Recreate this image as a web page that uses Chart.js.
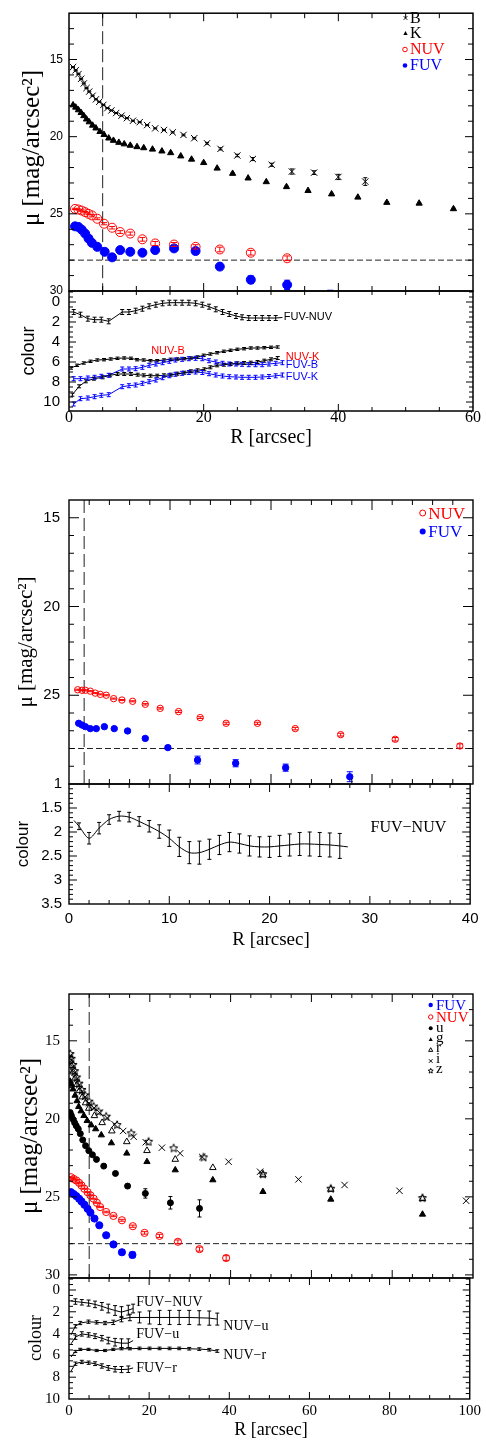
<!DOCTYPE html>
<html>
<head>
<meta charset="utf-8">
<title>UV surface brightness profiles</title>
<script src="https://cdn.jsdelivr.net/npm/chart.js@4.4.1/dist/chart.umd.min.js"></script>
<style>
  body { margin: 0; background: #fff; }
  #fig { position: relative; width: 486px; height: 1442px; }
  #fig canvas { position: absolute; left: 0; top: 0; display: block; }
</style>
</head>
<body>
<div id="fig">
  <canvas id="p1m" width="486" height="1442"></canvas>
  <canvas id="p1c" width="486" height="1442"></canvas>
  <canvas id="p2m" width="486" height="1442"></canvas>
  <canvas id="p2c" width="486" height="1442"></canvas>
  <canvas id="p3m" width="486" height="1442"></canvas>
  <canvas id="p3c" width="486" height="1442"></canvas>
</div>
<script>
//-------------
//- DATA -
//-------------

// panel 1 : B, K, NUV, FUV profiles
var rB  = [0.6,1.0,1.4,1.8,2.2,2.6,3.0,3.5,4.0,4.5,5.1,5.7,6.3,7.0,7.8,8.6,9.5,10.5,11.6,12.8,14.1,15.4,17.0,18.6,20.5,22.5,25.0,27.3,30.1,33.1,36.4,40.0,44.0];
var muB = [15.49,15.7,15.95,16.25,16.55,16.85,17.08,17.35,17.58,17.74,17.94,18.15,18.3,18.47,18.64,18.8,18.97,19.06,19.25,19.46,19.57,19.72,19.89,20.1,20.43,20.79,21.22,21.45,21.82,22.26,22.33,22.61,22.91];
var eB  = [0.03,0.03,0.03,0.03,0.03,0.03,0.03,0.03,0.03,0.03,0.03,0.03,0.03,0.03,0.03,0.03,0.03,0.03,0.03,0.03,0.04,0.04,0.05,0.05,0.06,0.07,0.08,0.1,0.1,0.17,0.12,0.17,0.25];

var rK  = [0.6,1.0,1.4,1.8,2.2,2.6,3.0,3.5,4.0,4.6,5.2,5.9,6.6,7.4,8.2,9.1,10.1,11.1,12.4,13.8,15.1,16.6,18.2,20.0,22.0,24.3,26.6,29.3,32.3,35.5,39.0,42.9,47.2,52.0,57.1];
var muK = [17.95,18.1,18.27,18.45,18.65,18.87,19.05,19.27,19.45,19.68,19.87,20.1,20.25,20.38,20.48,20.57,20.66,20.73,20.82,20.94,21.05,21.26,21.47,21.69,22.05,22.39,22.69,22.93,23.25,23.5,23.72,23.93,24.27,24.32,24.68];
var eK  = [0.04,0.04,0.04,0.04,0.04,0.04,0.04,0.04,0.04,0.04,0.04,0.04,0.04,0.04,0.04,0.04,0.04,0.04,0.04,0.04,0.04,0.04,0.04,0.04,0.04,0.04,0.04,0.04,0.05,0.05,0.05,0.05,0.05,0.05,0.05];

var rN1  = [0.9,1.4,1.9,2.4,2.9,3.4,4.2,5.2,6.4,7.6,9.1,10.9,12.8,15.6,18.8,22.4,27.0,32.4];
var muN1 = [24.68,24.72,24.79,24.89,25.0,25.1,25.32,25.64,25.9,26.18,26.28,26.65,26.92,26.99,27.14,27.31,27.52,27.88];
var eN1  = [0.04,0.04,0.04,0.04,0.05,0.05,0.06,0.07,0.08,0.09,0.1,0.12,0.13,0.13,0.14,0.15,0.15,0.15];

var rF1  = [0.9,1.4,1.9,2.4,2.9,3.4,4.2,5.3,6.4,7.6,9.1,10.9,12.8,15.6,18.8,22.4,27.0,32.4,38.8];
var muF1 = [25.81,25.85,26.03,26.28,26.6,26.88,27.14,27.46,27.82,27.35,27.46,27.52,27.35,27.24,27.41,28.42,29.27,29.6,30.35];
var eF1  = [0.05,0.05,0.05,0.06,0.07,0.08,0.1,0.12,0.15,0.12,0.13,0.13,0.12,0.12,0.14,0.18,0.25,0.3,0.4];

// panel 1 : colours
var rFUV1  = [0.7,1.7,2.8,3.8,4.8,5.9,7.9,8.9,9.9,10.9,11.9,12.9,13.9,14.9,15.8,16.8,17.8,18.8,19.8,20.8,21.8,22.8,23.8,24.8,25.7,26.7,27.7,28.7,29.7,30.7,31.7];
var fuvNuv1 = [1.0,1.27,1.67,1.77,1.77,1.93,1.0,1.0,0.87,0.67,0.43,0.27,0.13,0.07,0.07,0.07,0.07,0.13,0.27,0.47,0.73,1.0,1.2,1.4,1.53,1.6,1.6,1.6,1.6,1.6,1.55];
var fuvB1   = [7.67,7.67,7.6,7.53,7.43,7.33,6.7,6.7,6.67,6.53,6.33,6.2,6.07,5.93,5.8,5.73,5.67,5.63,5.67,5.87,6.0,6.13,6.2,6.2,6.23,6.27,6.27,6.27,6.2,6.13,6.07];
var fuvK1   = [10.2,9.67,9.6,9.47,9.33,9.27,8.47,8.37,8.3,8.13,7.97,7.8,7.57,7.37,7.23,7.13,7.05,7.0,7.05,7.17,7.3,7.4,7.47,7.5,7.53,7.53,7.53,7.5,7.45,7.38,7.3];
var rNB1  = [0.3,1.2,2.2,3.2,4.2,5.2,6.2,7.2,8.2,9.2,10.1,11.1,12.1,13.1,14.1,15.1,16.1,17.1,18.1,19.1,20.0,21.0,22.0,23.0,24.0,25.0,26.0,27.0,28.0,29.0,30.0,31.0];
var nuvB1 = [6.6,6.33,6.1,5.93,5.8,5.77,5.7,5.63,5.6,5.63,5.77,5.8,5.87,5.87,5.8,5.73,5.7,5.67,5.6,5.5,5.33,5.2,5.07,4.93,4.83,4.73,4.67,4.6,4.6,4.57,4.53,4.5];
var rNK1  = [0.5,1.5,2.5,3.7,5.0,6.1,7.2,8.2,9.2,10.2,11.1,12.1,13.1,14.1,15.1,16.1,17.1,18.1,19.1,20.1,21.0,22.0,23.0,24.0,25.0,26.0,27.0,28.0,29.0,30.0,31.0];
var nuvK1 = [9.27,8.43,7.93,7.67,7.53,7.33,7.2,7.2,7.2,7.27,7.33,7.37,7.37,7.33,7.27,7.17,7.07,6.93,6.83,6.73,6.53,6.33,6.27,6.2,6.13,6.1,6.07,6.0,5.87,5.73,5.6];

// panel 2 : NUV, FUV
var rN2  = [0.86,1.29,1.62,2.11,2.6,3.1,3.69,4.42,5.24,6.3,7.55,9.03,10.85,12.99,15.56,18.66,22.4,26.9,32.3,38.7];
var muN2 = [24.69,24.72,24.72,24.77,24.88,24.95,25.0,25.19,25.27,25.34,25.51,25.74,25.92,26.26,26.58,26.58,26.88,27.22,27.48,27.86];
var eN2  = [0.03,0.03,0.03,0.03,0.03,0.03,0.03,0.03,0.03,0.03,0.04,0.04,0.05,0.05,0.06,0.06,0.07,0.08,0.1,0.12];
var rF2  = [0.96,1.29,1.62,2.11,2.7,3.5,4.48,5.8,7.55,9.79,12.73,16.5,21.45,27.8];
var muF2 = [26.58,26.68,26.77,26.88,26.88,26.77,26.88,27.01,27.43,27.95,28.65,28.83,29.08,29.59];
var eF2  = [0.03,0.03,0.03,0.04,0.05,0.05,0.05,0.06,0.07,0.1,0.22,0.2,0.2,0.28];
var rC2  = [0.5,1,2,3,4,5,6,7,8,9,10,11,12,13,14,15,16,17,18,19,20,21,22,23,24,25,26,27,27.8];
var fuvNuv2 = [1.76,1.88,2.13,1.92,1.74,1.67,1.69,1.78,1.88,1.99,2.13,2.31,2.43,2.43,2.36,2.27,2.21,2.24,2.29,2.31,2.31,2.29,2.27,2.25,2.25,2.26,2.27,2.29,2.31];
var eC2  = [0,0.07,0.12,0.12,0.1,0.1,0.1,0.1,0.12,0.14,0.17,0.2,0.23,0.24,0.21,0.2,0.2,0.2,0.21,0.21,0.22,0.22,0.23,0.24,0.25,0.25,0.25,0.26,0];

// panel 3 : FUV, NUV, u g r i z
var rF3  = [0.5,1.15,1.8,2.5,3.1,3.8,4.6,5.3,6.3,7.5,9.2,11.0,13.1,15.7];
var muF3 = [24.7,24.82,24.95,25.12,25.29,25.5,25.76,26.01,26.39,26.82,27.46,28.05,28.55,28.72];
var eF3  = [0.03,0.03,0.03,0.03,0.04,0.04,0.05,0.05,0.06,0.07,0.1,0.12,0.15,0.18];
var rN3  = [0.5,1.15,1.8,2.5,3.1,3.8,4.6,5.3,6.1,6.9,7.7,9.2,11.0,13.1,15.8,18.7,22.4,26.96,32.3,38.9];
var muN3 = [23.74,23.85,23.95,24.1,24.27,24.48,24.7,24.9,25.12,25.38,25.65,25.97,26.22,26.5,26.88,27.31,27.5,27.88,28.35,28.92];
var eN3  = [0.03,0.03,0.03,0.03,0.03,0.03,0.03,0.03,0.03,0.03,0.04,0.05,0.05,0.06,0.07,0.08,0.1,0.12,0.13,0.15];
var ru3  = [0.3,0.6,1.0,1.4,1.8,2.3,2.8,3.4,4.1,4.9,5.8,6.8,8.6,11.5,14.5,18.9,25.1,32.3];
var muu3 = [19.6,19.8,20.03,20.25,20.45,20.65,20.95,21.35,21.72,22.04,22.3,22.6,23.03,23.5,24.31,24.78,25.38,25.74];
var eu3  = [0.03,0.03,0.03,0.03,0.03,0.03,0.03,0.03,0.03,0.03,0.03,0.03,0.05,0.08,0.12,0.3,0.4,0.55];
var rg3  = [0.3,0.6,1.0,1.5,2.0,2.4,3.0,3.7,4.5,5.5,6.6,8.0,10.5,14.3,19.3,26.3,35.6,48.0,64.8,87.5];
var mug3 = [17.6,17.8,18.1,18.5,18.85,19.22,19.5,19.8,20.12,20.4,20.65,21.04,21.55,22.21,22.75,23.28,23.92,24.67,25.16,26.12];
var rr3  = [0.3,0.6,1.0,1.5,2.0,2.6,3.3,4.1,4.9,6.3,8.2,10.6,14.3,19.3,26.3,35.6,48.0,64.8,87.5];
var mur3 = [16.3,16.6,17.0,17.4,17.8,18.2,18.6,18.98,19.33,19.8,20.25,20.78,21.47,22.04,22.6,23.13,23.6,24.52,25.12];
var ri3  = [0.3,0.6,1.0,1.4,1.9,2.5,3.2,4.0,5.0,6.2,7.6,9.5,11.3,13.4,16.0,19.0,23.0,27.5,33.0,39.5,47.3,56.8,68.2,81.8,98.3];
var mui3 = [15.95,16.25,16.65,17.05,17.45,17.85,18.25,18.6,19.0,19.3,19.6,19.95,20.35,20.78,21.15,21.5,21.85,22.21,22.45,22.75,23.39,23.88,24.24,24.61,25.25];
var rz3  = [0.3,0.6,1.0,1.4,1.9,2.5,3.2,4.0,5.0,6.1,7.3,9.2,11.9,15.4,19.7,25.9,33.3,48.0,64.8,87.5];
var muz3 = [15.85,16.15,16.55,16.95,17.35,17.75,18.15,18.5,18.9,19.22,19.54,19.86,20.4,20.93,21.47,21.89,22.47,23.55,24.48,25.08];

// panel 3 : colours
var rFUV3  = [0.5,1.6,3.2,4.9,6.5,8.2,9.8,11.5,13.1,14.8,16.0];
var fuvNuv3 = [1.0,1.06,1.13,1.2,1.32,1.5,1.7,1.88,2.03,1.85,1.7];
var eFN3    = [0,0.25,0.25,0.28,0.3,0.35,0.4,0.45,0.5,0.45,0.4];
var fuvU3   = [4.94,4.33,4.03,4.12,4.24,4.42,4.64,4.79,4.88,4.88,4.64];
var eFU3    = [0,0.2,0.2,0.2,0.22,0.25,0.3,0.35,0.4,0.4,0];
var fuvR3   = [7.45,6.76,6.6,6.67,6.76,6.97,7.15,7.27,7.3,7.27,7.15];
var eFR3    = [0,0.15,0.15,0.15,0.17,0.2,0.22,0.25,0.28,0.3,0];
var rNUV3  = [0.5,1.57,2.8,4.86,6.9,9.0,11.05,13.1,15.2,17.6,20.1,22.6,25.1,27.5,30.0,32.5,35.0,37.0];
var nuvU3  = [4.12,3.33,3.03,2.91,2.97,3.03,2.97,2.67,2.52,2.52,2.52,2.52,2.52,2.52,2.52,2.55,2.58,2.67];
var eNU3   = [0,0.15,0.15,0.15,0.15,0.15,0.2,0.25,0.3,0.5,0.6,0.65,0.65,0.65,0.65,0.65,0.65,0.55];
var nuvR3  = [6.15,5.64,5.45,5.45,5.55,5.55,5.45,5.39,5.39,5.36,5.36,5.36,5.36,5.36,5.39,5.42,5.48,5.6];
var eNR3   = [0,0.1,0.1,0.1,0.1,0.1,0.1,0.1,0.1,0.12,0.12,0.12,0.12,0.12,0.12,0.12,0.12,0.12];

// reference lines
var limitMu = 28;
var psfR = [5, 1.5, 5];

//-------------
//- STYLE -
//-------------
var SERIF = '"Liberation Serif","DejaVu Serif",serif';
var SANS = '"Liberation Sans","DejaVu Sans",Arial,sans-serif';
var RED = '#ff0000', BLUE = '#0000ff', INK = '#000000';
var W = 486, H = 1442, PLOT_L = 69, PLOT_R = 473;

function drawMark(ctx, m, x, y) {
  ctx.save();
  ctx.strokeStyle = m.color; ctx.fillStyle = m.color; ctx.lineWidth = 1;
  var r = m.r;
  ctx.beginPath();
  if (m.shape === 'x') {
    ctx.moveTo(x - r, y - r); ctx.lineTo(x + r, y + r);
    ctx.moveTo(x + r, y - r); ctx.lineTo(x - r, y + r);
    ctx.stroke();
  } else if (m.shape === 'tri') {
    ctx.moveTo(x, y - r); ctx.lineTo(x + r * 0.9, y + r * 0.6); ctx.lineTo(x - r * 0.9, y + r * 0.6);
    ctx.closePath();
    if (m.fill) ctx.fill(); else ctx.stroke();
  } else if (m.shape === 'star') {
    for (var k = 0; k < 10; k++) {
      var a = -Math.PI / 2 + k * Math.PI / 5, rr = k % 2 ? r * 0.45 : r;
      ctx.lineTo(x + rr * Math.cos(a), y + rr * Math.sin(a));
    }
    ctx.closePath();
    if (m.fill) ctx.fill(); else ctx.stroke();
  } else {
    ctx.arc(x, y, r, 0, Math.PI * 2);
    if (m.fill) ctx.fill(); else ctx.stroke();
  }
  ctx.restore();
}
function markImage(shape, r, color, fill) {
  var c = document.createElement('canvas');
  var s = Math.ceil(r * 2 + 3);
  c.width = s; c.height = s;
  drawMark(c.getContext('2d'), {shape: shape, r: r, color: color, fill: fill}, s / 2, s / 2);
  return c;
}
var starImg = markImage('star', 4.3, INK, false);

function pts(xs, ys) { return xs.map(function (v, i) { return {x: v, y: ys[i]}; }); }
function marks(xs, ys, errs, style) {
  return Object.assign({data: pts(xs, ys), errs: errs, showLine: false, cap: 2}, style);
}
function curve(xs, ys, errs, color, tension) {
  return {data: pts(xs, ys), errs: errs, showLine: true, borderColor: color, borderWidth: 1,
          pointRadius: 0, tension: tension || 0, cap: 2};
}
function guide(xs, ys, dash) {
  return {data: pts(xs, ys), showLine: true, borderColor: '#222', borderWidth: 1, borderDash: dash, pointRadius: 0};
}
var sB   = {pointStyle: 'crossRot', pointRadius: 4.5, borderColor: INK, backgroundColor: INK, borderWidth: 1};
var sK   = {pointStyle: 'triangle', pointRadius: 3.6, borderColor: INK, backgroundColor: INK, borderWidth: 1};
var sNUV = function (r) { return {pointStyle: 'circle', pointRadius: r, borderColor: RED, backgroundColor: 'rgba(0,0,0,0)', borderWidth: 1, cap: 3}; };
var sFUV = function (r) { return {pointStyle: 'circle', pointRadius: r, borderColor: BLUE, backgroundColor: BLUE, borderWidth: 1, cap: 3}; };

//-------------
//- PLUGINS -
//-------------
var FRAME = {
  p1m: {xs: 5, xm: 20, ys: 1, ym: 5, big: 8, small: 5, lw: 1.5},
  p1c: {xs: 5, xm: 20, ys: 0.5, ym: 2, big: 7, small: 4, lw: 1.5},
  p2m: {xs: 2, xm: 10, ys: 1, ym: 5, big: 10, small: 5, lw: 1.4},
  p2c: {xs: 2, xm: 10, ys: 0.1, ym: 0.5, big: 8, small: 4, lw: 1.4},
  p3m: {xs: 5, xm: 20, ys: 1, ym: 5, big: 8, small: 4, lw: 1.4},
  p3c: {xs: 5, xm: 20, ys: 0.5, ym: 2, big: 7, small: 4, lw: 1.4}
};

var frameFx = {
  id: 'frameFx',
  afterDraw: function (chart) {
    var f = FRAME[chart.canvas.id], ctx = chart.ctx, a = chart.chartArea, x = chart.scales.x, y = chart.scales.y;
    function ticks(sc, step, major, fn) {
      var n0 = Math.ceil(sc.min / step - 1e-6), n1 = Math.floor(sc.max / step + 1e-6);
      for (var n = n0; n <= n1; n++) {
        var v = n * step, q = v / major;
        fn(sc.getPixelForValue(v), Math.abs(q - Math.round(q)) < 1e-6 ? f.big : f.small);
      }
    }
    ctx.save();
    ctx.strokeStyle = INK; ctx.lineWidth = 1;
    ctx.beginPath();
    ticks(x, f.xs, f.xm, function (p, L) {
      if (p < a.left + 1 || p > a.right - 1) return;
      ctx.moveTo(p, a.bottom); ctx.lineTo(p, a.bottom - L);
      ctx.moveTo(p, a.top); ctx.lineTo(p, a.top + L);
    });
    ticks(y, f.ys, f.ym, function (p, L) {
      if (p < a.top + 1 || p > a.bottom - 1) return;
      ctx.moveTo(a.left, p); ctx.lineTo(a.left + L, p);
      ctx.moveTo(a.right, p); ctx.lineTo(a.right - L, p);
    });
    ctx.stroke();
    ctx.lineWidth = f.lw;
    ctx.strokeRect(a.left, a.top, a.right - a.left, a.bottom - a.top);
    ctx.restore();
  }
};

var errFx = {
  id: 'errFx',
  afterDatasetsDraw: function (chart) {
    var ctx = chart.ctx, a = chart.chartArea, x = chart.scales.x, y = chart.scales.y;
    ctx.save();
    ctx.beginPath(); ctx.rect(a.left, a.top, a.right - a.left, a.bottom - a.top); ctx.clip();
    chart.data.datasets.forEach(function (ds) {
      if (!ds.errs) return;
      ctx.strokeStyle = ds.errColor || ds.borderColor;
      ctx.lineWidth = 1;
      var cap = ds.cap || 2;
      ds.data.forEach(function (pt, i) {
        var e = ds.errs[i];
        if (!e) return;
        var px = x.getPixelForValue(pt.x), y1 = y.getPixelForValue(pt.y - e), y2 = y.getPixelForValue(pt.y + e);
        ctx.beginPath();
        ctx.moveTo(px, y1); ctx.lineTo(px, y2);
        ctx.moveTo(px - cap, y1); ctx.lineTo(px + cap, y1);
        ctx.moveTo(px - cap, y2); ctx.lineTo(px + cap, y2);
        ctx.stroke();
      });
    });
    ctx.restore();
  }
};

var NOTES = {};
var notesFx = {
  id: 'notesFx',
  afterDraw: function (chart) {
    var ctx = chart.ctx, x = chart.scales.x, y = chart.scales.y;
    (NOTES[chart.canvas.id] || []).forEach(function (t) {
      if (t.mark) drawMark(ctx, t.mark, t.mark.x, t.mark.y);
      var px = t.r !== undefined ? x.getPixelForValue(t.r) : t.x;
      var py = t.c !== undefined ? y.getPixelForValue(t.c) : t.y;
      ctx.save();
      ctx.translate(px, py);
      if (t.rot) ctx.rotate(-Math.PI / 2);
      ctx.font = t.font;
      ctx.fillStyle = t.color || INK;
      ctx.textAlign = t.align || 'left';
      ctx.textBaseline = t.base || 'middle';
      ctx.fillText(t.text, 0, 0);
      ctx.restore();
    });
  }
};

function makeChart(id, p) {
  var xh = p.xTicks ? 30 : 0;
  return new Chart(document.getElementById(id), {
    type: 'scatter',
    data: {datasets: p.datasets},
    options: {
      responsive: false, animation: false, devicePixelRatio: 1,
      layout: {padding: {left: 0, right: W - PLOT_R, top: p.top, bottom: H - p.bottom - xh}},
      plugins: {legend: {display: false}, tooltip: {enabled: false}},
      scales: {
        x: {
          type: 'linear', min: p.xMin, max: p.xMax,
          grid: {display: false, drawTicks: false}, border: {display: false},
          ticks: {display: !!p.xTicks, color: INK, font: p.xFont, padding: p.xPad || 0,
                  autoSkip: false, maxRotation: 0, callback: function (v) { return '' + v; }},
          afterBuildTicks: function (s) { if (p.xTicks) s.ticks = p.xTicks.map(function (v) { return {value: v}; }); },
          afterFit: function (s) { s.height = xh; }
        },
        y: {
          type: 'linear', reverse: true, min: p.yMin, max: p.yMax,
          grid: {display: false, drawTicks: false}, border: {display: false},
          ticks: {color: INK, font: p.yFont, padding: p.yPad, autoSkip: false,
                  callback: function (v) { return '' + v; }},
          afterBuildTicks: function (s) { s.ticks = p.yTicks.map(function (v) { return {value: v}; }); },
          afterFit: function (s) { s.width = PLOT_L; }
        }
      }
    },
    plugins: [errFx, frameFx, notesFx]
  });
}

function muTitle(x, y, size) {
  return {text: 'μ [mag/arcsec²]', x: x, y: y, rot: true, align: 'center', base: 'alphabetic', font: size + 'px ' + SERIF};
}
function legendRow(text, color, mark, mx, my, tx, ty, size) {
  mark.x = mx; mark.y = my;
  return {text: text, x: tx, y: ty, color: color, base: 'alphabetic', font: size + 'px ' + SERIF, mark: mark};
}

//-------------
//- PANEL 1 -
//-------------
NOTES.p1m = [
  muTitle(38.5, 148, 25),
  legendRow('B', INK, {shape: 'x', r: 1.8, color: INK}, 405.5, 18, 410, 22.7, 16),
  legendRow('K', INK, {shape: 'tri', r: 2.4, color: INK, fill: true}, 405.5, 33.5, 410, 38.3, 16),
  legendRow('NUV', RED, {shape: 'circle', r: 2.3, color: RED}, 405, 49.5, 410, 54, 16),
  legendRow('FUV', BLUE, {shape: 'circle', r: 2.3, color: BLUE, fill: true}, 405, 65.5, 410, 70, 16)
];
makeChart('p1m', {
  top: 6, bottom: 291, xMin: 0, xMax: 60, yMin: 12, yMax: 30, yTicks: [15, 20, 25, 30],
  yFont: {family: SANS, size: 12}, yPad: 6,
  datasets: [
    marks(rF1, muF1, eF1, sFUV(4.5)),
    marks(rN1, muN1, eN1, sNUV(4.5)),
    marks(rK, muK, eK, sK),
    marks(rB, muB, eB, sB),
    guide([0, 60], [limitMu, limitMu], [6, 3]),
    guide([psfR[0], psfR[0]], [12, 30], [13, 5])
  ]
});

NOTES.p1c = [
  {text: 'colour', x: 33.5, y: 351, rot: true, align: 'center', base: 'alphabetic', font: '18px ' + SANS},
  {text: 'R [arcsec]', x: 271, y: 443, align: 'center', base: 'alphabetic', font: '20px ' + SERIF},
  {text: 'FUV-NUV', r: 31.9, c: 1.53, font: '11px ' + SANS},
  {text: 'NUV-B', r: 14.7, c: 4.85, align: 'center', color: RED, font: '11px ' + SANS},
  {text: 'NUV-K', r: 32.2, c: 5.47, color: RED, font: '11px ' + SANS},
  {text: 'FUV-B', r: 32.2, c: 6.3, color: BLUE, font: '11px ' + SANS},
  {text: 'FUV-K', r: 32.2, c: 7.47, color: BLUE, font: '11px ' + SANS}
];
makeChart('p1c', {
  top: 291, bottom: 411, xMin: 0, xMax: 60, yMin: -1.1, yMax: 10.9, yTicks: [0, 2, 4, 6, 8, 10],
  xTicks: [0, 20, 40, 60], xFont: {family: SERIF, size: 16, lineHeight: 1}, xPad: -1,
  yFont: {family: SANS, size: 15}, yPad: 9,
  datasets: [
    curve(rFUV1, fuvNuv1, rFUV1.map(function (v, i) { return i < rFUV1.length - 1 ? 0.25 : 0; }), INK),
    curve(rNB1, nuvB1, rNB1.map(function () { return 0.12; }), INK),
    curve(rNK1, nuvK1, rNK1.map(function () { return 0.15; }), INK),
    curve(rFUV1, fuvB1, rFUV1.map(function () { return 0.2; }), BLUE),
    curve(rFUV1, fuvK1, rFUV1.map(function () { return 0.2; }), BLUE)
  ]
});

//-------------
//- PANEL 2 -
//-------------
NOTES.p2m = [
  muTitle(32, 642, 21),
  legendRow('NUV', RED, {shape: 'circle', r: 3, color: RED}, 422.7, 513, 428.3, 519, 17),
  legendRow('FUV', BLUE, {shape: 'circle', r: 3, color: BLUE, fill: true}, 422.7, 531.5, 428.3, 537.3, 17)
];
makeChart('p2m', {
  top: 500, bottom: 784, xMin: 0, xMax: 40, yMin: 14, yMax: 30, yTicks: [15, 20, 25],
  yFont: {family: SANS, size: 15}, yPad: 9,
  datasets: [
    marks(rF2, muF2, eF2, sFUV(3.2)),
    marks(rN2, muN2, eN2, sNUV(3.2)),
    guide([0, 40], [limitMu, limitMu], [6, 3]),
    guide([psfR[1], psfR[1]], [14, 30], [13, 5])
  ]
});

NOTES.p2c = [
  {text: 'colour', x: 27.5, y: 844, rot: true, align: 'center', base: 'alphabetic', font: '17px ' + SANS},
  {text: 'R [arcsec]', x: 271, y: 945, align: 'center', base: 'alphabetic', font: '19px ' + SERIF},
  {text: 'FUV−NUV', r: 30.07, c: 1.92, font: '16px ' + SERIF}
];
makeChart('p2c', {
  top: 784, bottom: 904, xMin: 0, xMax: 40, yMin: 1, yMax: 3.5, yTicks: [1, 1.5, 2, 2.5, 3, 3.5],
  xTicks: [0, 10, 20, 30, 40], xFont: {family: SANS, size: 15, lineHeight: 1}, xPad: 7.5,
  yFont: {family: SANS, size: 15}, yPad: 7,
  datasets: [curve(rC2, fuvNuv2, eC2, INK, 0.3)]
});

//-------------
//- PANEL 3 -
//-------------
NOTES.p3m = [
  muTitle(36.5, 1136, 25),
  legendRow('FUV', BLUE, {shape: 'circle', r: 2.2, color: BLUE, fill: true}, 430.7, 1005, 436, 1010, 15),
  legendRow('NUV', RED, {shape: 'circle', r: 2.2, color: RED}, 430.7, 1017, 436, 1021.7, 15),
  legendRow('u', INK, {shape: 'circle', r: 2, color: INK, fill: true}, 430.7, 1028.3, 436, 1031.7, 15),
  legendRow('g', INK, {shape: 'tri', r: 2.3, color: INK, fill: true}, 430.7, 1039.5, 436, 1041.7, 15),
  legendRow('r', INK, {shape: 'tri', r: 2.3, color: INK}, 430.7, 1050, 436, 1051.7, 15),
  legendRow('i', INK, {shape: 'x', r: 1.8, color: INK}, 430.7, 1061, 436, 1062.7, 15),
  legendRow('z', INK, {shape: 'star', r: 2.6, color: INK}, 430.7, 1071, 436, 1073.3, 15)
];
makeChart('p3m', {
  top: 994, bottom: 1278, xMin: 0, xMax: 100, yMin: 12, yMax: 30.2, yTicks: [15, 20, 25, 30],
  yFont: {family: SERIF, size: 15}, yPad: 9,
  datasets: [
    marks(rF3, muF3, eF3, sFUV(3.6)),
    marks(rN3, muN3, eN3, sNUV(3.6)),
    marks(ru3, muu3, eu3, {pointStyle: 'circle', pointRadius: 3, borderColor: INK, backgroundColor: INK, borderWidth: 1}),
    marks(rg3, mug3, null, {pointStyle: 'triangle', pointRadius: 3.6, borderColor: INK, backgroundColor: INK, borderWidth: 1}),
    marks(rr3, mur3, null, {pointStyle: 'triangle', pointRadius: 3.8, borderColor: INK, backgroundColor: 'rgba(0,0,0,0)', borderWidth: 1}),
    marks(ri3, mui3, null, {pointStyle: 'crossRot', pointRadius: 4.5, borderColor: INK, borderWidth: 1}),
    marks(rz3, muz3, null, {pointStyle: starImg, pointRadius: 4}),
    guide([0, 100], [limitMu, limitMu], [6, 3]),
    guide([psfR[2], psfR[2]], [12, 30.2], [13, 5])
  ]
});

NOTES.p3c = [
  {text: 'colour', x: 41, y: 1338, rot: true, align: 'center', base: 'alphabetic', font: '18px ' + SERIF},
  {text: 'R [arcsec]', x: 271, y: 1435, align: 'center', base: 'alphabetic', font: '18px ' + SERIF},
  {text: 'FUV−NUV', r: 16.8, c: 1.15, font: '14px ' + SERIF},
  {text: 'NUV−u', r: 38.5, c: 3.34, font: '14px ' + SERIF},
  {text: 'FUV−u', r: 16.8, c: 4.1, font: '14px ' + SERIF},
  {text: 'NUV−r', r: 38.5, c: 6.0, font: '14px ' + SERIF},
  {text: 'FUV−r', r: 16.8, c: 7.2, font: '14px ' + SERIF}
];
makeChart('p3c', {
  top: 1278, bottom: 1399, xMin: 0, xMax: 100, yMin: -1.1, yMax: 10, yTicks: [0, 2, 4, 6, 8, 10],
  xTicks: [0, 20, 40, 60, 80, 100], xFont: {family: SERIF, size: 15, lineHeight: 1}, xPad: 5,
  yFont: {family: SERIF, size: 15}, yPad: 9,
  datasets: [
    curve(rFUV3, fuvNuv3, eFN3, INK),
    curve(rNUV3, nuvU3, eNU3, INK),
    curve(rFUV3, fuvU3, eFU3, INK),
    curve(rNUV3, nuvR3, eNR3, INK),
    curve(rFUV3, fuvR3, eFR3, INK)
  ]
});
</script>
</body>
</html>
